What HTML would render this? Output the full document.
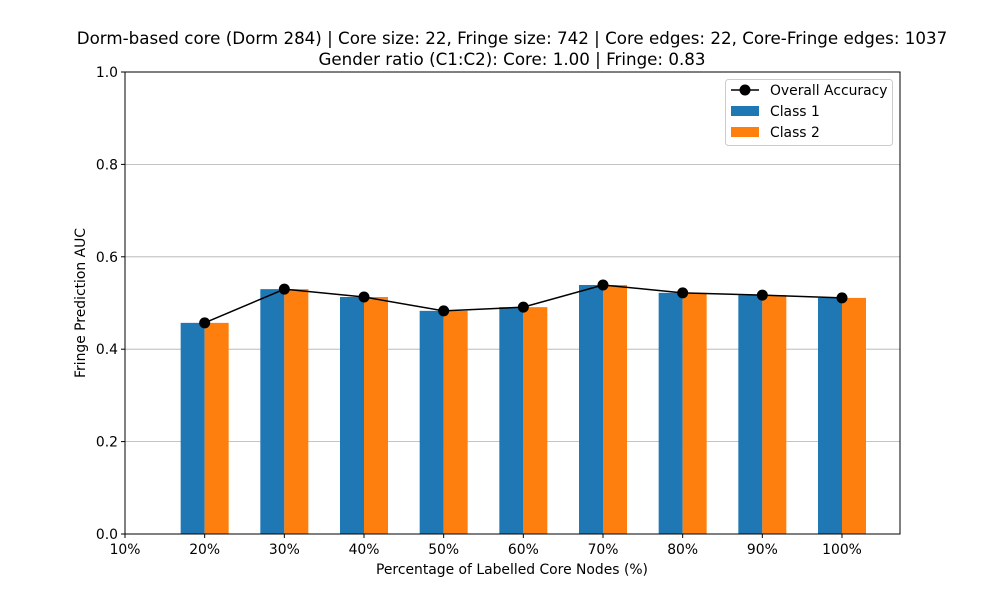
<!DOCTYPE html>
<html><head><meta charset="utf-8"><style>
body{margin:0;background:#fff;font-family:"DejaVu Sans","Liberation Sans",sans-serif;}
svg text{font-family:"DejaVu Sans","Liberation Sans",sans-serif;}
</style></head><body>
<svg id="chart" width="1000" height="600" xmlns="http://www.w3.org/2000/svg">
<text x="512" y="44" text-anchor="middle" font-size="16.7">Dorm-based core (Dorm 284) | Core size: 22, Fringe size: 742 | Core edges: 22, Core-Fringe edges: 1037</text>
<text x="512" y="65" text-anchor="middle" font-size="16.7">Gender ratio (C1:C2): Core: 1.00 | Fringe: 0.83</text>
<g id="grid"></g><g id="bars"></g><g id="line"></g><g id="axes"></g>
<text x="512" y="574" text-anchor="middle" font-size="13.9">Percentage of Labelled Core Nodes (%)</text>
<text transform="translate(85,303) rotate(-90)" text-anchor="middle" font-size="13.9">Fringe Prediction AUC</text>
<g>
<rect x="725.5" y="79.5" width="167" height="66" rx="3" fill="#fff" stroke="#ccc"/>
<line x1="731" y1="90" x2="759" y2="90" stroke="#000" stroke-width="1.5"/>
<circle cx="745" cy="90" r="5.5" fill="#000"/>
<text x="770" y="95" font-size="13.9">Overall Accuracy</text>
<rect x="731" y="106" width="28" height="10" fill="#1f77b4"/>
<text x="770" y="116" font-size="13.9">Class 1</text>
<rect x="731" y="127" width="28" height="10" fill="#ff7f0e"/>
<text x="770" y="137" font-size="13.9">Class 2</text>
</g>
</svg>
<script>
const categories=[20,30,40,50,60,70,80,90,100];
const class1=[0.457,0.530,0.513,0.483,0.491,0.539,0.522,0.517,0.511];
const class2=[0.457,0.530,0.513,0.483,0.491,0.539,0.522,0.517,0.511];
const overall=[0.457,0.530,0.513,0.483,0.491,0.539,0.522,0.517,0.511];
const xTicks=[10,20,30,40,50,60,70,80,90,100];
const yTicks=[0,0.2,0.4,0.6,0.8,1.0];
const NS="http://www.w3.org/2000/svg";
const X0=125,X1=900,Y0=534,Y1=72;
const xs=v=>125+(v-10)*(842-125)/90;
const ys=v=>Y0-v*(Y0-Y1);
function mk(t,a,p){const e=document.createElementNS(NS,t);for(const k in a)e.setAttribute(k,a[k]);p.appendChild(e);return e;}
const grid=document.getElementById('grid'),bars=document.getElementById('bars'),line=document.getElementById('line'),axes=document.getElementById('axes');
yTicks.forEach(t=>{const y=ys(t);
 if(t>0&&t<1){const g=mk('line',{x1:X0,x2:X1,y1:y,y2:y,stroke:'#b0b0b0','stroke-width':0.8},grid);
 
 }
 mk('line',{x1:X0-4,x2:X0,y1:y,y2:y,stroke:'#000'},axes);
 const l=mk('text',{x:X0-7,y:y+5,'text-anchor':'end','font-size':13.9},axes);l.textContent=t.toFixed(1);
 
 
});
xTicks.forEach(t=>{const x=xs(t);
 mk('line',{x1:x,x2:x,y1:Y0,y2:Y0+4,stroke:'#000'},axes);
 const l=mk('text',{x:x,y:Y0+20,'text-anchor':'middle','font-size':13.9},axes);l.textContent=t+'%';
 
 
});
const bw=24;
categories.forEach((c,i)=>{const x=xs(c);
 const b1=mk('rect',{x:x-bw,y:ys(class1[i]),width:bw,height:Y0-ys(class1[i]),fill:'#1f77b4'},bars);
 
 
 const b2=mk('rect',{x:x,y:ys(class2[i]),width:bw,height:Y0-ys(class2[i]),fill:'#ff7f0e'},bars);
 
 
});
const pl=mk('polyline',{points:categories.map((c,i)=>xs(c)+','+ys(overall[i])).join(' '),fill:'none',stroke:'#000','stroke-width':1.5},line);


categories.forEach((c,i)=>{const p=mk('circle',{cx:xs(c),cy:ys(overall[i]),r:5.5,fill:'#000'},line);
 
 });
const fr=mk('rect',{x:X0,y:Y1,width:X1-X0,height:Y0-Y1,fill:'none',stroke:'#000','stroke-width':1},axes);


</script>
</body></html>
